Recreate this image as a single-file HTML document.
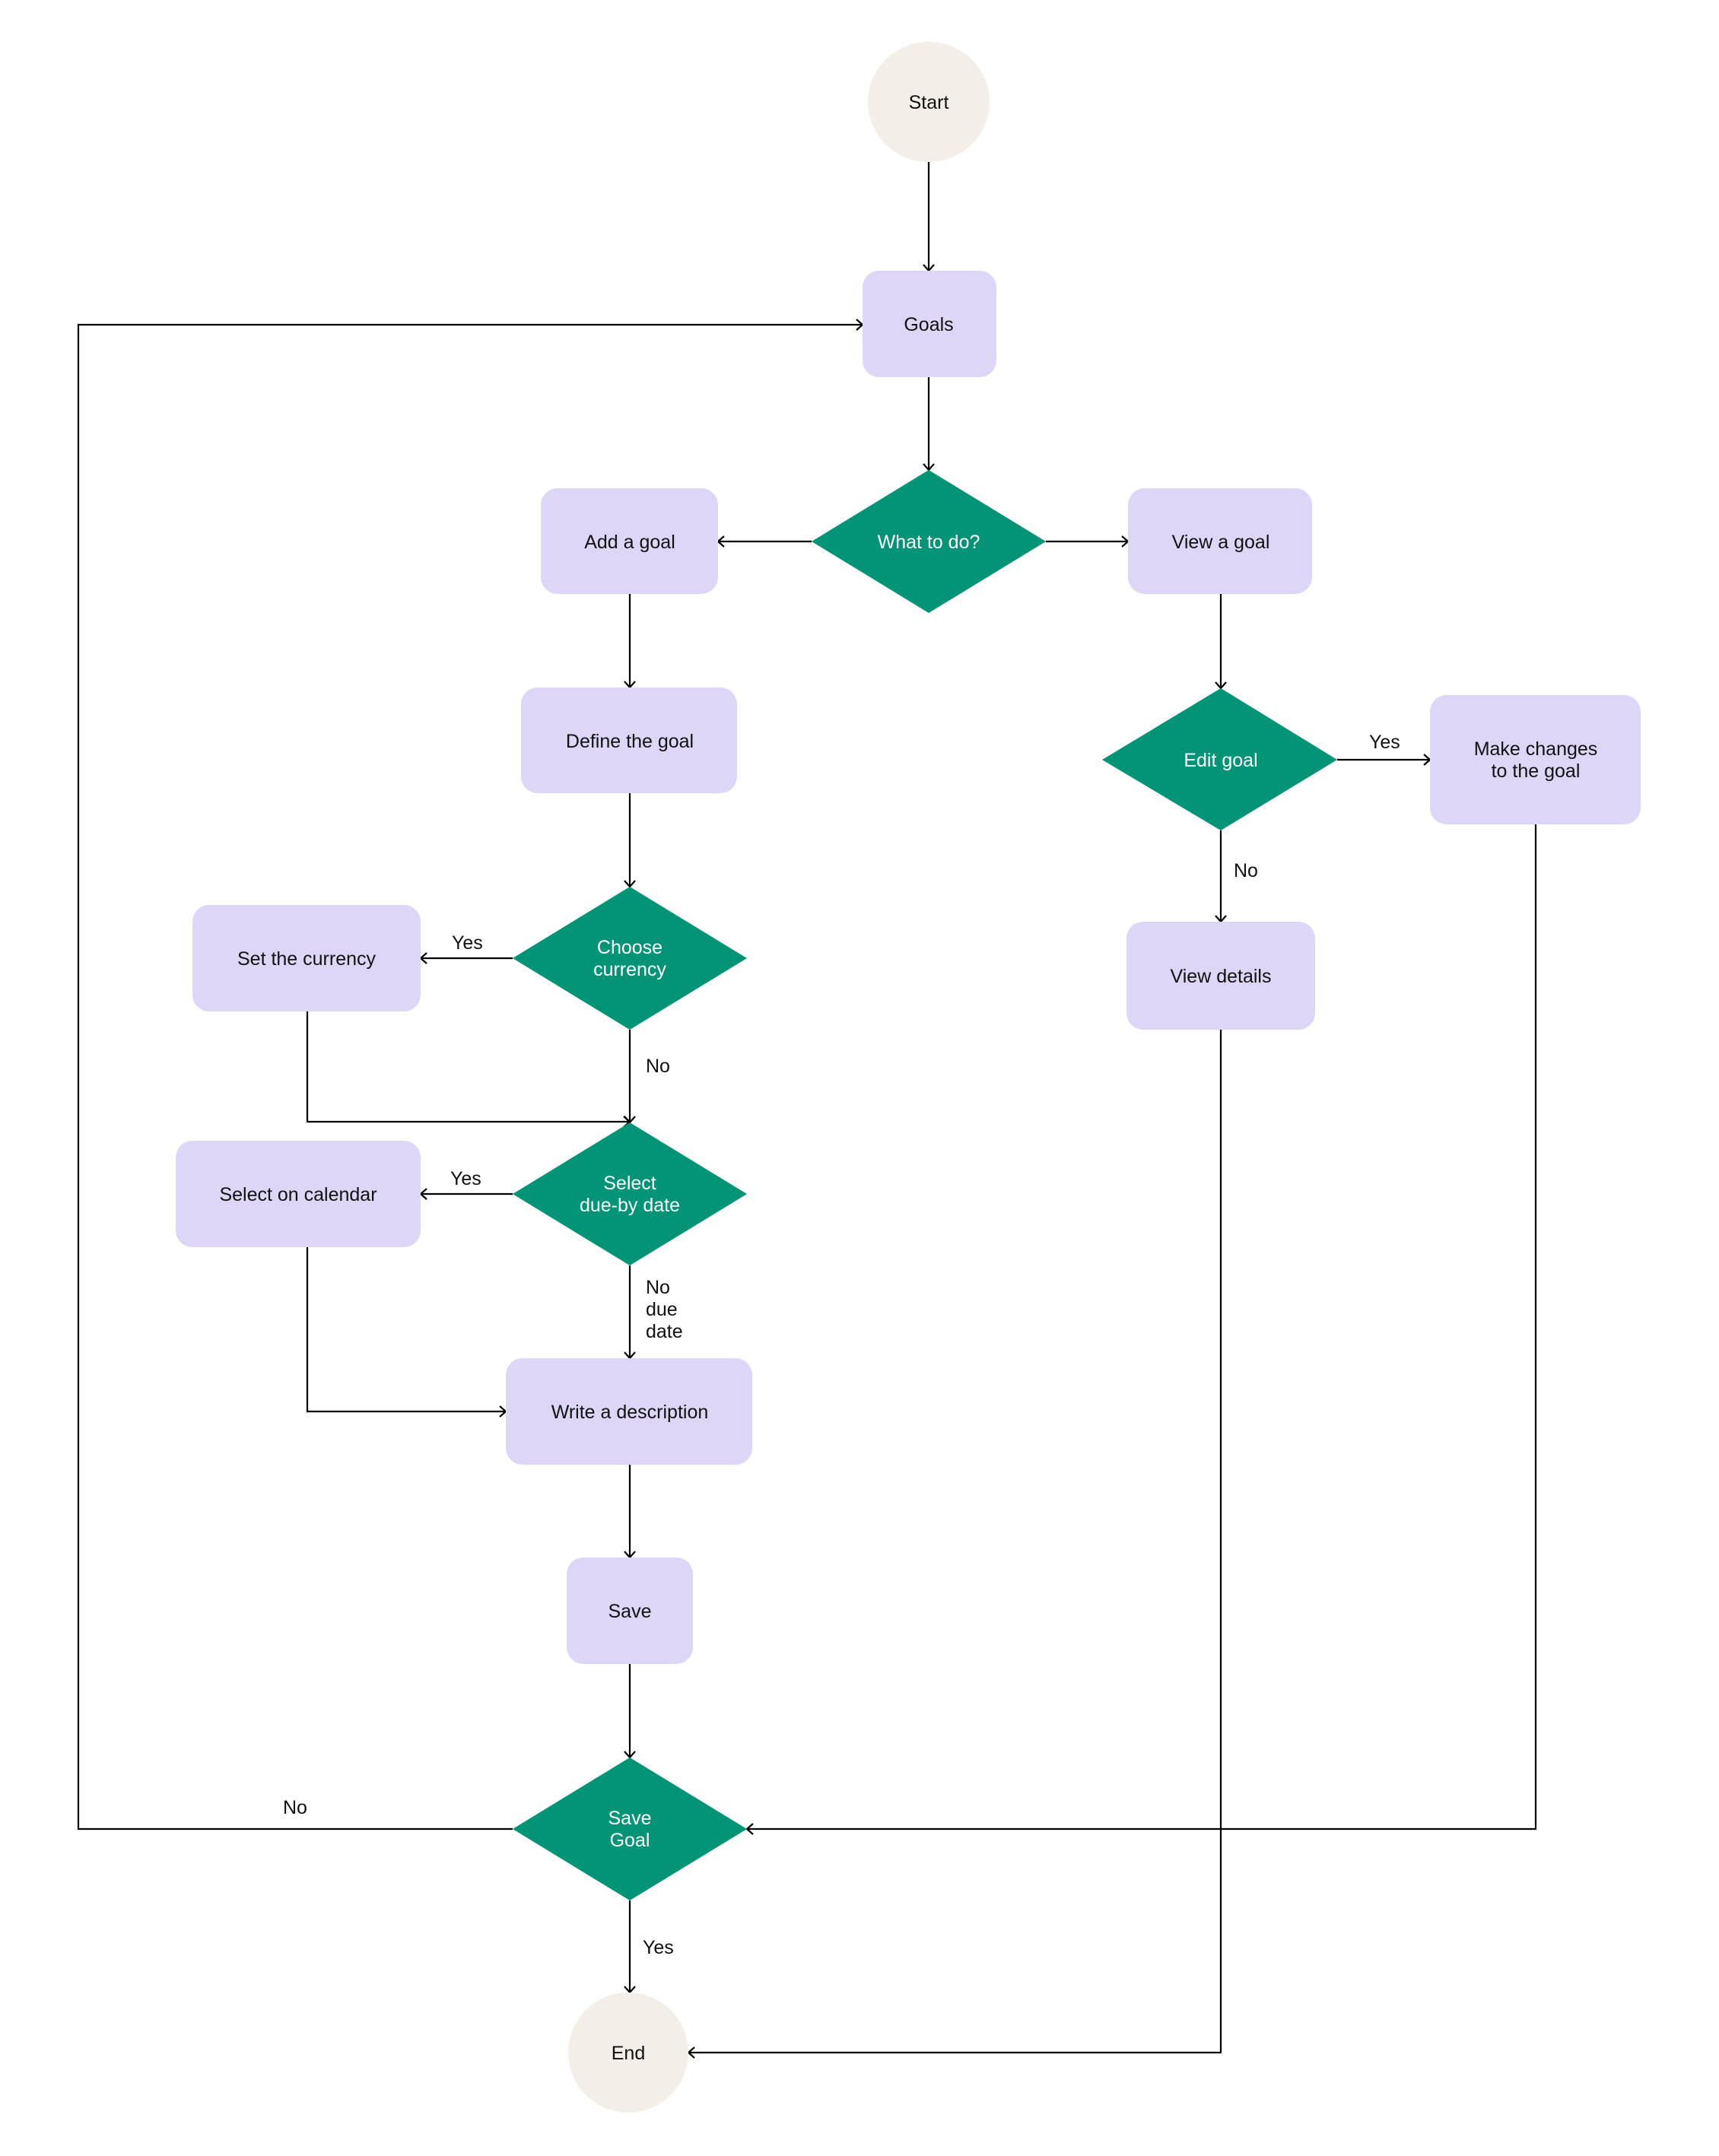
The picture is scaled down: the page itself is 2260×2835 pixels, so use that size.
<!DOCTYPE html>
<html><head><meta charset="utf-8"><style>
html,body{margin:0;padding:0;background:#fff;}
svg{display:block;}
text{font-family:"Liberation Sans",sans-serif;font-size:25px;}
.b{fill:#111;}
.w{fill:#fff;}
</style></head><body>
<svg width="2260" height="2835" viewBox="0 0 2260 2835" xmlns="http://www.w3.org/2000/svg">
<defs>
<marker id="a" markerUnits="userSpaceOnUse" markerWidth="20" markerHeight="20" refX="13" refY="10" orient="auto">
<path d="M5,3 L13,10 L5,17" fill="none" stroke="#000" stroke-width="2.2"/>
</marker>
</defs>
<g fill="none" stroke="#000" stroke-width="2.2">
<line x1="1221" y1="213" x2="1221" y2="356" marker-end="url(#a)"/>
<line x1="1221" y1="496" x2="1221" y2="618" marker-end="url(#a)"/>
<line x1="1067" y1="712" x2="944" y2="712" marker-end="url(#a)"/>
<line x1="1375" y1="712" x2="1483" y2="712" marker-end="url(#a)"/>
<line x1="828" y1="781" x2="828" y2="904" marker-end="url(#a)"/>
<line x1="828" y1="1043" x2="828" y2="1166" marker-end="url(#a)"/>
<line x1="674" y1="1260" x2="553" y2="1260" marker-end="url(#a)"/>
<line x1="828" y1="1354" x2="828" y2="1476" marker-end="url(#a)"/>
<polyline points="404,1330 404,1475 828,1475" marker-end="url(#a)"/>
<line x1="674" y1="1570" x2="553" y2="1570" marker-end="url(#a)"/>
<line x1="828" y1="1664" x2="828" y2="1786" marker-end="url(#a)"/>
<polyline points="404,1640 404,1856 665,1856" marker-end="url(#a)"/>
<line x1="828" y1="1926" x2="828" y2="2048" marker-end="url(#a)"/>
<line x1="828" y1="2188" x2="828" y2="2311" marker-end="url(#a)"/>
<line x1="828" y1="2499" x2="828" y2="2620" marker-end="url(#a)"/>
<polyline points="674,2405 103,2405 103,427 1134,427" marker-end="url(#a)"/>
<line x1="1605" y1="781" x2="1605" y2="905" marker-end="url(#a)"/>
<line x1="1758" y1="999" x2="1880" y2="999" marker-end="url(#a)"/>
<line x1="1605" y1="1092" x2="1605" y2="1212" marker-end="url(#a)"/>
<polyline points="2019,1084 2019,2405 982,2405" marker-end="url(#a)"/>
<polyline points="1605,1354 1605,2699 905,2699" marker-end="url(#a)"/>
</g>
<ellipse cx="1221" cy="134" rx="80" ry="79" fill="#F3EEE7"/>
<ellipse cx="826" cy="2699" rx="79" ry="79" fill="#F3EEE7"/>
<g fill="#DDD6F7">
<rect x="1134" y="356" width="176" height="140" rx="22"/>
<rect x="711" y="642" width="233" height="139" rx="22"/>
<rect x="1483" y="642" width="242" height="139" rx="22"/>
<rect x="685" y="904" width="284" height="139" rx="22"/>
<rect x="253" y="1190" width="300" height="140" rx="22"/>
<rect x="231" y="1500" width="322" height="140" rx="22"/>
<rect x="665" y="1786" width="324" height="140" rx="22"/>
<rect x="745" y="2048" width="166" height="140" rx="22"/>
<rect x="1880" y="914" width="277" height="170" rx="22"/>
<rect x="1481" y="1212" width="248" height="142" rx="22"/>
</g>
<g fill="#039377">
<polygon points="1221,618 1375,712 1221,806 1067,712"/>
<polygon points="828,1166 982,1260 828,1354 674,1260"/>
<polygon points="828,1476 982,1570 828,1664 674,1570"/>
<polygon points="828,2311 982,2405 828,2499 674,2405"/>
<polygon points="1605,905 1758,999 1605,1092 1449,999"/>
</g>
<g text-anchor="middle" class="b">
<text x="1221" y="143" class="b">Start</text>
<text x="1221" y="435" class="b">Goals</text>
<text x="828" y="721" class="b">Add a goal</text>
<text x="1605" y="721" class="b">View a goal</text>
<text x="828" y="983" class="b">Define the goal</text>
<text x="403" y="1269" class="b">Set the currency</text>
<text x="392" y="1579" class="b">Select on calendar</text>
<text x="828" y="1865" class="b">Write a description</text>
<text x="828" y="2127" class="b">Save</text>
<text x="826" y="2708" class="b">End</text>
<text x="2019" y="993" class="b">Make changes</text>
<text x="2019" y="1022" class="b">to the goal</text>
<text x="1605" y="1292" class="b">View details</text>
<text x="1221" y="721" class="w">What to do?</text>
<text x="828" y="1254" class="w">Choose</text>
<text x="828" y="1283" class="w">currency</text>
<text x="828" y="1564" class="w">Select</text>
<text x="828" y="1593" class="w">due-by date</text>
<text x="828" y="2399" class="w">Save</text>
<text x="828" y="2428" class="w">Goal</text>
<text x="1605" y="1008" class="w">Edit goal</text>
</g>
<g class="b">
<text x="594" y="1248">Yes</text>
<text x="592" y="1558">Yes</text>
<text x="849" y="1410">No</text>
<text x="849" y="1701">No</text>
<text x="849" y="1730">due</text>
<text x="849" y="1759">date</text>
<text x="372" y="2385">No</text>
<text x="845" y="2569">Yes</text>
<text x="1800" y="984">Yes</text>
<text x="1622" y="1153">No</text>
</g>
</svg>
</body></html>
